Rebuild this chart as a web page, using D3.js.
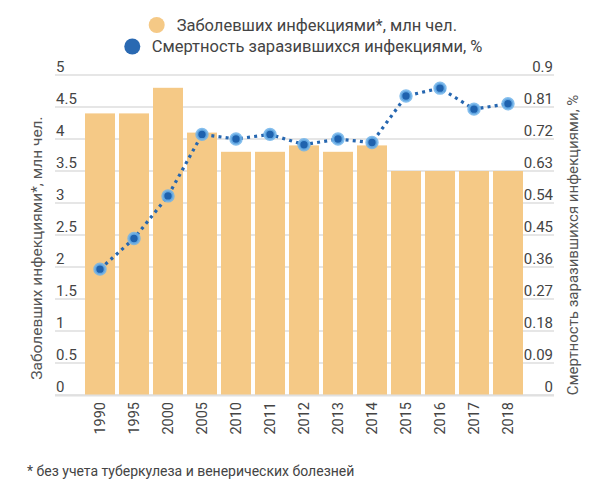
<!DOCTYPE html>
<html>
<head>
<meta charset="utf-8">
<script src="https://cdn.jsdelivr.net/npm/d3@7"></script>
<style>
  html, body { margin: 0; padding: 0; background: #fff; }
  svg { display: block; font-family: Roboto, "Noto Sans", sans-serif; }
</style>
</head>
<body>
<svg id="chart" width="600" height="494"></svg>
<script>
const years = ["1990","1995","2000","2005","2010","2011","2012","2013","2014","2015","2016","2017","2018"];
const cases = [4.4, 4.4, 4.8, 4.1, 3.8, 3.8, 3.9, 3.8, 3.9, 3.5, 3.5, 3.5, 3.5];
const mortality = [0.354, 0.44, 0.56, 0.733, 0.72, 0.733, 0.704, 0.72, 0.71, 0.841, 0.863, 0.804, 0.819];
const leftTicks = [0, 0.5, 1, 1.5, 2, 2.5, 3, 3.5, 4, 4.5, 5];
const rightTicks = [0, 0.09, 0.18, 0.27, 0.36, 0.45, 0.54, 0.63, 0.72, 0.81, 0.9];
const legendLabels = ["Заболевших инфекциями*, млн чел.", "Смертность заразившихся инфекциями, %"];
const leftTitle = "Заболевших инфекциями*, млн чел.";
const rightTitle = "Смертность заразившихся инфекциями, %";
const footnote = "* без учета туберкулеза и венерических болезней";

const barColor = "#F5C986";
const lineColor = "#2566B0";
const textColor = "#444";

const svg = d3.select("#chart");
const gridLeft = 55, gridRight = 554;
const y0 = 395, y1 = 75;

const x = d3.scaleBand().domain(years).range([83, 525]).paddingInner(4/34).paddingOuter(2/34);
const yL = d3.scaleLinear().domain([0, 5]).range([y0, y1]);
const yR = d3.scaleLinear().domain([0, 0.9]).range([y0, y1]);

// gridlines
svg.append("g").selectAll("line").data(leftTicks).join("line")
  .attr("x1", gridLeft).attr("x2", gridRight)
  .attr("y1", d => yL(d)).attr("y2", d => yL(d))
  .attr("stroke", "#dedede").attr("stroke-width", 1.3);

// left tick labels
svg.append("g").selectAll("text").data(leftTicks).join("text")
  .attr("x", 56).attr("y", d => yL(d) - 3)
  .attr("font-size", 15).attr("fill", textColor)
  .text(d => d);

// right tick labels
svg.append("g").selectAll("text").data(rightTicks).join("text")
  .attr("x", 553).attr("y", d => yR(d) - 3)
  .attr("text-anchor", "end")
  .attr("font-size", 15).attr("fill", textColor)
  .text(d => d);

// bars
svg.append("g").selectAll("rect").data(years).join("rect")
  .attr("x", d => x(d)).attr("width", x.bandwidth())
  .attr("y", (d, i) => yL(cases[i]))
  .attr("height", (d, i) => y0 - yL(cases[i]))
  .attr("fill", barColor);

// baseline
svg.append("line").attr("x1", gridLeft).attr("x2", gridRight)
  .attr("y1", y0 + 0.5).attr("y2", y0 + 0.5)
  .attr("stroke", "#e0e0e0").attr("stroke-width", 2);

// line
const line = d3.line()
  .x((d, i) => x(years[i]) + x.bandwidth() / 2)
  .y(d => yR(d));
svg.append("path").datum(mortality)
  .attr("d", line)
  .attr("fill", "none")
  .attr("stroke", lineColor)
  .attr("stroke-width", 3.2)
  .attr("stroke-dasharray", "3,4.2");

svg.append("g").selectAll("circle").data(mortality).join("circle")
  .attr("cx", (d, i) => x(years[i]) + x.bandwidth() / 2)
  .attr("cy", d => yR(d))
  .attr("r", 5.2)
  .attr("fill", "#1F62AE")
  .attr("stroke", "#6FB3EA")
  .attr("stroke-width", 3)
  .attr("stroke-opacity", 0.85);

// year labels
svg.append("g").selectAll("text").data(years).join("text")
  .attr("transform", d => `translate(${x(d) + x.bandwidth() / 2 + 5},402) rotate(-90)`)
  .attr("text-anchor", "end")
  .attr("font-size", 14.5).attr("fill", textColor)
  .text(d => d);

// axis titles
svg.append("text")
  .attr("transform", "translate(41.5,248) rotate(-90)")
  .attr("text-anchor", "middle")
  .attr("font-size", 15.5).attr("fill", "#555")
  .text(leftTitle);
svg.append("text")
  .attr("transform", "translate(578,245) rotate(-90)")
  .attr("text-anchor", "middle")
  .attr("font-size", 15).attr("fill", "#555")
  .text(rightTitle);

// legend
const legend = [
  { cx: 156.7, cy: 25, color: barColor, tx: 176.7, label: legendLabels[0] },
  { cx: 132.3, cy: 46.5, color: "#2A69B2", tx: 151.7, label: legendLabels[1] }
];
const lg = svg.append("g");
lg.selectAll("circle").data(legend).join("circle")
  .attr("cx", d => d.cx).attr("cy", d => d.cy).attr("r", 8)
  .attr("fill", d => d.color);
lg.selectAll("text").data(legend).join("text")
  .attr("x", d => d.tx).attr("y", d => d.cy + 5.5)
  .attr("font-size", 16.5).attr("fill", textColor)
  .text(d => d.label);

// footnote
svg.append("text")
  .attr("x", 27).attr("y", 476)
  .attr("font-size", 14).attr("fill", textColor)
  .text(footnote);
</script>
</body>
</html>
